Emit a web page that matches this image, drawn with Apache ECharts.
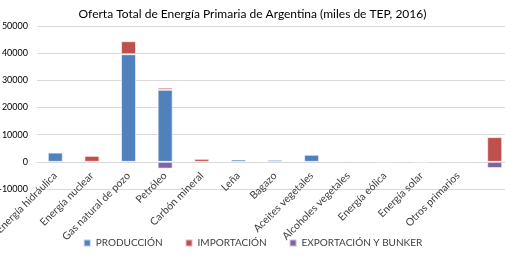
<!DOCTYPE html>
<html>
<head>
<meta charset="utf-8">
<script src="https://cdn.jsdelivr.net/npm/echarts@6/dist/echarts.min.js"></script>
<style>
  html, body { margin: 0; padding: 0; background: #fff; }
  #chart { width: 505px; height: 256px; }
</style>
</head>
<body>
<div id="chart"></div>
<script>
// categorias (la ultima no tiene etiqueta visible)
var categorias = ['Energía hidráulica', 'Energía nuclear', 'Gas natural de pozo', 'Petróleo',
  'Carbón mineral', 'Leña', 'Bagazo', 'Aceites vegetales', 'Alcoholes vegetales',
  'Energía eólica', 'Energía solar', 'Otros primarios', ''];
// null = sin barra
var produccion = [3400, null, 39600, 26500, null, 850, 750, 2600, 400, 80, 10, 200, null];
var importacion = [null, 2200, 4800, 800, 1100, null, null, null, null, null, null, null, 9100];
var exportacion = [null, null, null, -2500, null, null, null, null, null, null, null, null, -2300];
var ejeY = { min: -10000, max: 50000, interval: 10000 };

var fuente = 'Lato, "Open Sans", sans-serif';
var chart = echarts.init(document.getElementById('chart'));

function serie(nombre, datos, color) {
  return {
    name: nombre,
    type: 'bar',
    stack: 'total',
    barWidth: 15,
    data: datos,
    itemStyle: { color: color, borderColor: 'rgba(255,255,255,0.6)', borderWidth: 1 }
  };
}

chart.setOption({
  animation: false,
  textStyle: { fontFamily: fuente },
  title: {
    text: 'Oferta Total de Energía Primaria de Argentina (miles de TEP, 2016)',
    left: 'center',
    top: 3,
    textStyle: { fontSize: 12, fontWeight: 'normal', color: '#000', fontFamily: fuente }
  },
  legend: {
    bottom: 3,
    left: 'center',
    itemWidth: 7,
    itemHeight: 7,
    itemGap: 22,
    icon: 'rect',
    textStyle: { fontSize: 10, color: '#404040' },
    data: ['PRODUCCIÓN', 'IMPORTACIÓN', 'EXPORTACIÓN Y BUNKER']
  },
  grid: { left: 37, width: 476, top: 26, height: 163, outerBoundsMode: 'none', containLabel: false },
  xAxis: {
    type: 'category',
    data: categorias,
    position: 'bottom',
    offset: -27,  // linea del eje sobre el 0
    axisLine: { onZero: false, lineStyle: { color: '#d9d9d9' } },
    axisTick: { show: false },
    axisLabel: { rotate: 45, interval: 0, fontSize: 10.5, color: '#404040', margin: 12 }
  },
  yAxis: {
    type: 'value',
    min: ejeY.min,
    max: ejeY.max,
    interval: ejeY.interval,
    axisLine: { show: false },
    axisTick: { show: false },
    axisLabel: { fontSize: 9, color: '#000', margin: 9, formatter: function (v) { return String(v); } },
    splitLine: { lineStyle: { color: '#d9d9d9' } }
  },
  series: [
    serie('PRODUCCIÓN', produccion, '#4f81bd'),
    serie('IMPORTACIÓN', importacion, '#c0504d'),
    serie('EXPORTACIÓN Y BUNKER', exportacion, '#8064a2')
  ]
});
</script>
</body>
</html>
